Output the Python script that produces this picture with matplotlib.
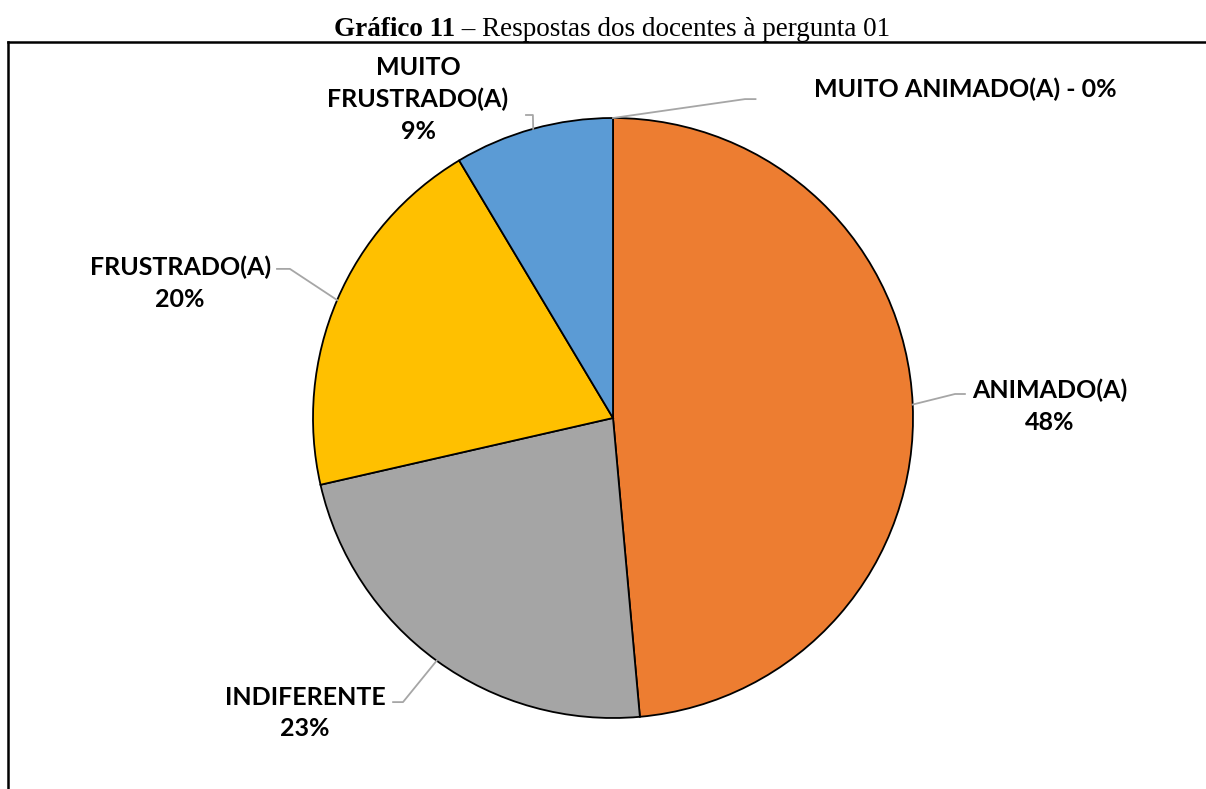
import numpy as np
import matplotlib.pyplot as plt

# respostas dos docentes, na ordem do grafico (sentido horario a partir do topo)
categorias = ['MUITO ANIMADO(A)', 'ANIMADO(A)', 'INDIFERENTE', 'FRUSTRADO(A)', 'MUITO\nFRUSTRADO(A)']
respostas = [0, 17, 8, 7, 3]
pct_rotulos = [0, 48, 23, 20, 9]   # percentuais como aparecem nos rotulos
cores = ['#4472C4', '#ED7D31', '#A5A5A5', '#FFC000', '#5B9BD5']

W, H = 1206, 789
fig = plt.figure(figsize=(W/100, H/100), dpi=100)

# moldura (so aparece a esquerda e em cima)
fig.add_artist(plt.Line2D([8/W, 1.0], [1-42/H, 1-42/H], color='black', lw=1.8))
fig.add_artist(plt.Line2D([8/W, 8/W], [1-42/H, 0], color='black', lw=1.8))

# titulo: parte em negrito + parte normal, centrado
fig.canvas.draw()
r = fig.canvas.get_renderer()
t1 = fig.text(0, 1-36/H, 'Gráfico 11', ha='left', va='baseline', family='Liberation Serif',
              fontsize=19.5, fontweight='bold')
t2 = fig.text(0, 1-36/H, ' – Respostas dos docentes à pergunta 01', ha='left', va='baseline',
              family='Liberation Serif', fontsize=19.5)
w1 = t1.get_window_extent(r).width / W
w2 = t2.get_window_extent(r).width / W
x0 = 612/W - (w1 + w2)/2
t1.set_x(x0)
t2.set_x(x0 + w1)

ax = fig.add_axes([(613-300)/W, (H-718)/H, 600/W, 600/H])
wedges, _ = ax.pie(respostas, colors=cores, startangle=90, counterclock=False,
                   wedgeprops=dict(edgecolor='black', linewidth=1.3))
ax.set_xlim(-1, 1)
ax.set_ylim(-1, 1)
ax.set_aspect('equal')
ax.axis('off')

# posicao do texto e cotovelo da linha de chamada (em raios)
texto_xy = [(1.173, 1.095), (1.457, 0.04), (-1.027, -0.983), (-1.443, 0.45), (-0.65, 1.063)]
cotovelo = [[(0.44, 1.063), (0.475, 1.063)],
            [(1.14, 0.08), (1.173, 0.08)],
            [(-0.70, -0.947), (-0.733, -0.947)],
            [(-1.077, 0.497), (-1.12, 0.497)],
            [(-0.267, 1.01), (-0.29, 1.01)]]

for i, w in enumerate(wedges):
    ang = np.deg2rad((w.theta1 + w.theta2) / 2)
    xs = [np.cos(ang)] + [p[0] for p in cotovelo[i]]
    ys = [np.sin(ang)] + [p[1] for p in cotovelo[i]]
    ax.plot(xs, ys, color='#A6A6A6', lw=1.3, clip_on=False)
    if respostas[i] == 0:
        txt = f'{categorias[i]} - {pct_rotulos[i]}%'
    else:
        txt = f'{categorias[i]}\n{pct_rotulos[i]}%'
    ax.text(texto_xy[i][0], texto_xy[i][1], txt, ha='center', va='center',
            family='Lato', fontweight='bold', fontsize=18, linespacing=1.45,
            color='black', clip_on=False)

fig.savefig('out.png', dpi=100)
